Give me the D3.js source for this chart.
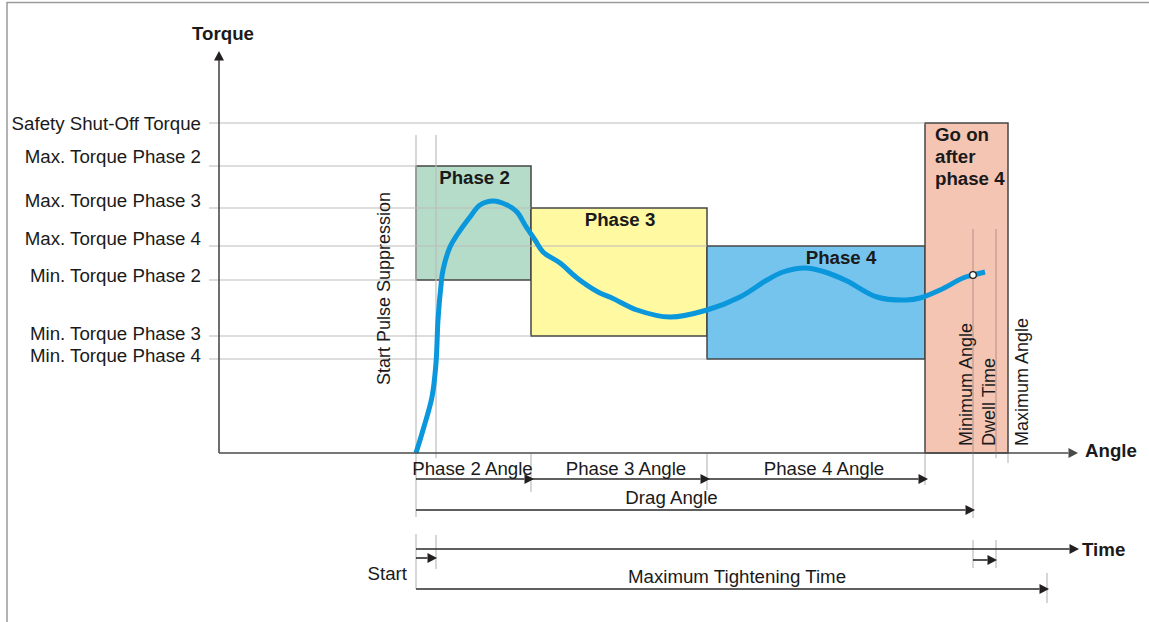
<!DOCTYPE html>
<html><head><meta charset="utf-8">
<script src="https://cdn.jsdelivr.net/npm/d3@7"></script>
<style>body{margin:0;background:#fff}svg{display:block;font-family:"Liberation Sans",Arial,sans-serif}</style>
</head><body>
<script>
// ---------- data ----------
const torqueLabels = ["Safety Shut-Off Torque","Max. Torque Phase 2","Max. Torque Phase 3","Max. Torque Phase 4","Min. Torque Phase 2","Min. Torque Phase 3","Min. Torque Phase 4"];
const torqueLevels = [33.0, 28.7, 24.5, 20.7, 17.3, 11.7, 9.4];
const phaseNames = ["Phase 2","Phase 3","Phase 4"];
const phaseStartAngle = [0, 115, 291];
const phaseEndAngle = [115, 291, 509];
const phaseMinTorque = [17.3, 11.7, 9.4];
const phaseMaxTorque = [28.7, 24.5, 20.7];
const phaseAngleLabels = ["Phase 2 Angle","Phase 3 Angle","Phase 4 Angle"];
const goOnLines = ["Go on","after","phase 4"];
const curveAngle  = [0, 7, 16, 20, 22, 25, 27, 34, 41, 54, 64, 77, 91, 101, 109, 119, 127, 144, 161, 182, 196, 221, 254, 291, 324, 351, 367, 389, 409, 431, 461, 491, 504, 524, 547, 557, 569];
const curveTorque = [0, 2.3, 5.6, 9.0, 13.3, 16.8, 18.3, 20.6, 21.8, 23.6, 24.8, 25.2, 24.8, 24.1, 22.8, 21.3, 20.1, 19.0, 17.5, 16.1, 15.5, 14.3, 13.6, 14.3, 15.6, 17.3, 18.1, 18.5, 18.1, 17.2, 15.6, 15.3, 15.5, 16.3, 17.5, 17.8, 18.1];
const suppressionAngle = 20;
const minimumAngle = 557;
const dwellEndAngle = 580;
const maximumAngle = 592;
const maxTighteningTime = 631;
const safetyTorque = 33.0;

// ---------- scales ----------
const W = 1149, H = 622;
const x = d3.scaleLinear().domain([-197, 662]).range([219, 1078]);
const y = d3.scaleLinear().domain([0, 40]).range([453, 53]);
const t = x; // time drawn on same horizontal positions
const FS = 18.7;

const svg = d3.select("body").append("svg").attr("width", W).attr("height", H);
const INK = "#1a1a1a", AX = "#4a4a4a", GRID = "#bcbcbc", BOX = "#454545";

// frame
svg.append("path").attr("d", `M7,${H} V2.5 H${W}`).attr("fill","none").attr("stroke","#9a9a9a").attr("stroke-width",1.5);

// ---------- boxes ----------
const fills = ["#b4dcc8", "#fff9a2", "#75c4ee"];
phaseNames.forEach((n, i) => {
  svg.append("rect")
    .attr("x", x(phaseStartAngle[i])).attr("y", y(phaseMaxTorque[i]))
    .attr("width", x(phaseEndAngle[i]) - x(phaseStartAngle[i]))
    .attr("height", y(phaseMinTorque[i]) - y(phaseMaxTorque[i]))
    .attr("fill", fills[i]).attr("stroke", BOX).attr("stroke-width", 1.5);
});
svg.append("rect")
  .attr("x", x(phaseEndAngle[2])).attr("y", y(safetyTorque))
  .attr("width", x(maximumAngle) - x(phaseEndAngle[2]))
  .attr("height", y(0) - y(safetyTorque))
  .attr("fill", "#f5c5b4").attr("stroke", BOX).attr("stroke-width", 1.5);

// ---------- horizontal grid lines ----------
const gridEnds = [phaseEndAngle[2], phaseStartAngle[0], phaseStartAngle[1], phaseStartAngle[2], phaseStartAngle[0], phaseStartAngle[1], phaseStartAngle[2]];
torqueLevels.forEach((lv, i) => {
  svg.append("line").attr("x1", 209).attr("x2", x(gridEnds[i]))
    .attr("y1", y(lv)).attr("y2", y(lv)).attr("stroke", GRID).attr("stroke-width", 1.2);
});

// ---------- vertical marker lines ----------
function vline(xv, y1, y2, col) {
  svg.append("line").attr("x1", xv).attr("x2", xv).attr("y1", y1).attr("y2", y2)
    .attr("stroke", col || GRID).attr("stroke-width", 1.2);
}
vline(x(0), 135, 517);
vline(x(suppressionAngle), 135, 458);
vline(x(phaseEndAngle[0]), 453, 492);
vline(x(phaseEndAngle[1]), 453, 490);
vline(x(phaseEndAngle[2]), 453, 485);
vline(x(minimumAngle), 229, 453, "#c0968a");
vline(x(minimumAngle), 453, 518);
vline(x(dwellEndAngle), 229, 453, "#c0968a");
vline(x(dwellEndAngle), 453, 458);
vline(x(maximumAngle), 453, 463);
// time section ticks
vline(t(0), 534, 589);
vline(t(suppressionAngle), 535, 569);
vline(t(minimumAngle), 540, 568);
vline(t(dwellEndAngle), 540, 568);
vline(t(maxTighteningTime), 573, 603);

// ---------- curve ----------
const pts = curveAngle.map((a, i) => [a, curveTorque[i]]);
svg.append("path").datum(pts)
  .attr("d", d3.line().x(d => x(d[0])).y(d => y(d[1])).curve(d3.curveCatmullRom.alpha(0.5)))
  .attr("fill", "none").attr("stroke", "#0a97dc").attr("stroke-width", 5).attr("stroke-linecap", "butt").attr("stroke-linejoin","round");
svg.append("circle").attr("cx", x(minimumAngle)).attr("cy", y(curveTorque[curveAngle.indexOf(minimumAngle)]))
  .attr("r", 3.3).attr("fill", "#fff").attr("stroke", "#222").attr("stroke-width", 1.3);

// ---------- axes ----------
function harrow(x1, x2, yy, col, head) {
  const h = head || 9.5;
  svg.append("line").attr("x1", x1).attr("x2", x2 - h + 1).attr("y1", yy).attr("y2", yy)
    .attr("stroke", col || "#2a2a2a").attr("stroke-width", 1.6);
  svg.append("path").attr("d", `M${x2 + 1},${yy} L${x2 - h + 1},${yy - 5} L${x2 - h + 1},${yy + 5} Z`).attr("fill", col || "#231f20");
}
svg.append("line").attr("x1", x(-197)).attr("x2", x(-197)).attr("y1", y(0)).attr("y2", y(40) + 6)
  .attr("stroke", AX).attr("stroke-width", 1.6);
svg.append("path").attr("d", `M${x(-197)},${y(40) - 2} L${x(-197) - 5},${y(40) + 7.5} L${x(-197) + 5},${y(40) + 7.5} Z`).attr("fill", "#231f20");
harrow(x(-197), x(662) - 1, y(0), AX);

const yAxis = svg.append("g").attr("transform", `translate(${x(-197)},0)`)
  .call(d3.axisLeft(y).tickValues(torqueLevels).tickFormat((d, i) => torqueLabels[i]).tickSize(0).tickPadding(18));
yAxis.select(".domain").remove();
const labelDy = [6, -4, -2, -2, 1, 3, 2];
yAxis.selectAll(".tick text").attr("dy", null).attr("y", (d, i) => labelDy[i])
  .attr("font-size", FS).attr("font-family", '"Liberation Sans",Arial,sans-serif').attr("fill", INK);

function txt(s, xx, yy, opts) {
  const o = opts || {};
  return svg.append("text").attr("x", xx).attr("y", yy).text(s)
    .attr("font-size", o.size || FS).attr("font-weight", o.bold ? "bold" : "normal")
    .attr("text-anchor", o.anchor || "start").attr("fill", INK);
}
txt("Torque", x(-197) + 4, 40, {bold: true, anchor: "middle"});
txt("Angle", 1085, 457, {bold: true});
txt("Time", 1082, 556, {bold: true});

// phase labels
const phaseLabelShift = [1, 1, 25];
phaseNames.forEach((n, i) => {
  txt(n, (x(phaseStartAngle[i]) + x(phaseEndAngle[i])) / 2 + phaseLabelShift[i], y(phaseMaxTorque[i]) + 17.5, {bold: true, anchor: "middle"});
});
goOnLines.forEach((s, i) => txt(s, x(phaseEndAngle[2]) + 10, 141 + i * 22, {bold: true}));

// rotated labels
function rtxt(s, xx, yy) {
  svg.append("text").attr("transform", `translate(${xx},${yy}) rotate(-90)`).text(s)
    .attr("font-size", 18).attr("fill", INK);
}
rtxt("Start Pulse Suppression", 390, 385);
rtxt("Minimum Angle", x(minimumAngle) - 1, 446);
rtxt("Dwell Time", x(dwellEndAngle) - 1, 446);
rtxt("Maximum Angle", x(maximumAngle) + 20, 446);

// ---------- angle arrows ----------
const angleLabelShift = [-1, 7, 8];
phaseAngleLabels.forEach((s, i) => {
  harrow(x(phaseStartAngle[i]), x(phaseEndAngle[i]) + 2, 479);
  txt(s, (x(phaseStartAngle[i]) + x(phaseEndAngle[i])) / 2 + angleLabelShift[i], 475, {anchor: "middle"});
});
harrow(x(0), x(minimumAngle) + 1, 510);
txt("Drag Angle", (x(0) + x(minimumAngle)) / 2 - 23, 504, {anchor: "middle"});

// ---------- time arrows ----------
harrow(t(0), t(662), 549);
harrow(t(0), t(suppressionAngle), 558);
harrow(t(minimumAngle), t(dwellEndAngle), 560);
harrow(t(0), t(maxTighteningTime) + 1, 589);
txt("Start", 407, 580, {anchor: "end"});
txt("Maximum Tightening Time", 737, 583, {anchor: "middle"});
</script>
</body></html>
